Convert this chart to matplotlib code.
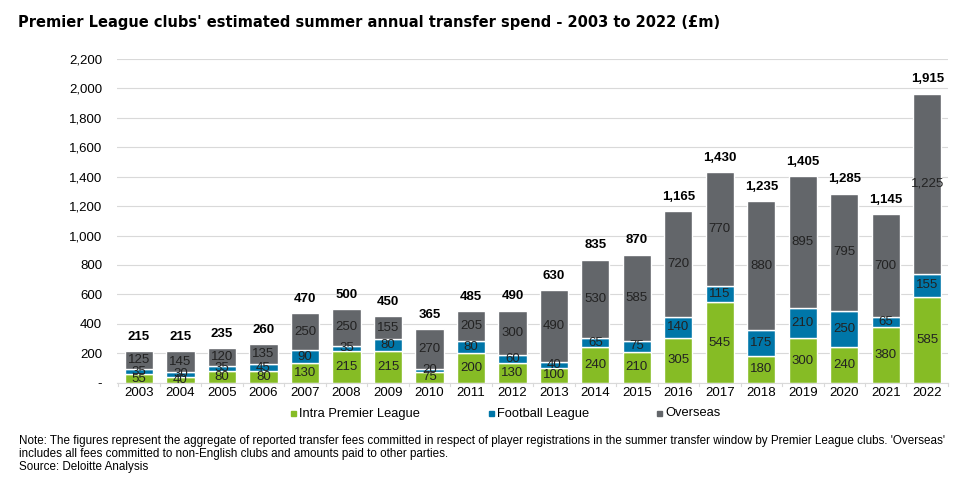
import matplotlib.pyplot as plt
from matplotlib.patches import Rectangle

# data (GBP m)
years = ['2003', '2004', '2005', '2006', '2007', '2008', '2009', '2010', '2011', '2012',
         '2013', '2014', '2015', '2016', '2017', '2018', '2019', '2020', '2021', '2022']
intra_pl = [55, 40, 80, 80, 130, 215, 215, 75, 200, 130,
            100, 240, 210, 305, 545, 180, 300, 240, 380, 585]
football_league = [35, 30, 35, 45, 90, 35, 80, 20, 80, 60,
                   40, 65, 75, 140, 115, 175, 210, 250, 65, 155]
overseas = [125, 145, 120, 135, 250, 250, 155, 270, 205, 300,
            490, 530, 585, 720, 770, 880, 895, 795, 700, 1225]
totals = [215, 215, 235, 260, 470, 500, 450, 365, 485, 490,
          630, 835, 870, 1165, 1430, 1235, 1405, 1285, 1145, 1915]
y_ticks = [0, 200, 400, 600, 800, 1000, 1200, 1400, 1600, 1800, 2000, 2200]
series_names = ['Intra Premier League', 'Football League', 'Overseas']

GREEN = '#86BC25'
BLUE = '#0076A8'
GREY = '#63666A'

plt.rcParams['font.family'] = ['Liberation Sans', 'DejaVu Sans']

fig = plt.figure(figsize=(9.59, 4.91), dpi=100)
ax = fig.add_axes([0.1225, 0.2208, 0.866, 0.659])

x = list(range(len(years)))
bar_kw = dict(width=0.68, edgecolor='white', linewidth=1.0)
ax.bar(x, intra_pl, color=GREEN, **bar_kw)
bottom2 = intra_pl
ax.bar(x, football_league, bottom=bottom2, color=BLUE, **bar_kw)
bottom3 = [a + b for a, b in zip(intra_pl, football_league)]
ax.bar(x, overseas, bottom=bottom3, color=GREY, **bar_kw)

# segment labels
for i in x:
    ax.text(i, intra_pl[i] / 2, f'{intra_pl[i]:,}', ha='center', va='center',
            fontsize=9.5, color='#222222')
    ax.text(i, bottom2[i] + football_league[i] / 2, f'{football_league[i]:,}',
            ha='center', va='center', fontsize=9.5, color='#222222')
    ax.text(i, bottom3[i] + overseas[i] / 2, f'{overseas[i]:,}', ha='center',
            va='center', fontsize=9.5, color='#222222')
    top = bottom3[i] + overseas[i]
    ax.annotate(f'{totals[i]:,}', (i, top), xytext=(0, 6), textcoords='offset points',
                ha='center', va='bottom', fontsize=9.5, fontweight='bold')

ax.set_xlim(-0.52, len(years) - 0.5)
ax.set_ylim(0, 2200)
ax.set_yticks(y_ticks)
ax.set_yticklabels(['-' if v == 0 else f'{v:,}' for v in y_ticks], fontsize=9.5)
ax.set_xticks(x)
ax.set_xticklabels(years, fontsize=9.5)
ax.tick_params(axis='y', length=0, pad=11)
ax.tick_params(axis='x', length=0, pad=3)
# category boundary ticks under the axis
for b in range(len(years) + 1):
    ax.plot([b - 0.5, b - 0.5], [0, -22], color='#D9D9D9', lw=0.8, clip_on=False)

ax.grid(axis='y', color='#D9D9D9', lw=0.8)
ax.set_axisbelow(True)
for s in ['top', 'right', 'left']:
    ax.spines[s].set_visible(False)
ax.spines['bottom'].set_color('#D9D9D9')

fig.text(0.019, 0.955, "Premier League clubs' estimated summer annual transfer spend - 2003 to 2022 (\u00a3m)",
         fontsize=10.5, fontweight='bold', family='DejaVu Sans', va='center')

# legend, placed by hand
W, H = 959, 491
legend_x = [291, 489, 657]
for lx, col, name in zip(legend_x, [GREEN, BLUE, GREY], series_names):
    fig.add_artist(Rectangle((lx / W, 1 - 416 / H), 5 / W, 5 / H, color=col,
                             transform=fig.transFigure))
    fig.text((lx + 8) / W, 1 - 413.5 / H, name, fontsize=9.3, va='center')

note = ("Note: The figures represent the aggregate of reported transfer fees committed in respect of "
        "player registrations in the summer transfer window by Premier League clubs. 'Overseas'\n"
        "includes all fees committed to non-English clubs and amounts paid to other parties.\n"
        "Source: Deloitte Analysis")
fig.text(0.02, 0.115, note, fontsize=8.4, va='top', linespacing=1.15)

fig.savefig('out.png', dpi=100, facecolor='white')
